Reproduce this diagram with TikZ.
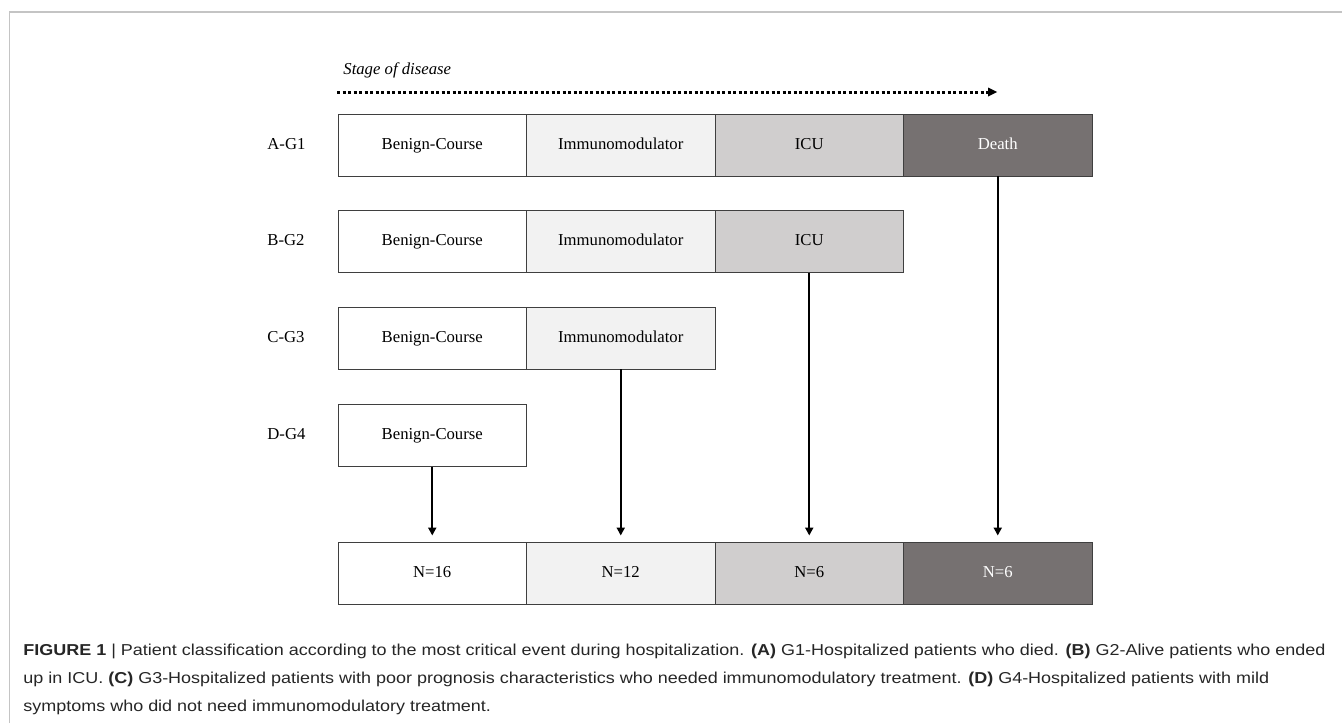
\documentclass[tikz,border=0pt]{standalone}
\usepackage{fontspec}
\setmainfont{Liberation Serif}
\newfontfamily\capfont{Liberation Sans}
\usetikzlibrary{arrows.meta}
\definecolor{immu}{HTML}{F2F2F2}
\definecolor{icu}{HTML}{D0CECE}
\definecolor{death}{HTML}{767171}
\definecolor{boxline}{HTML}{3F3F3F}
\definecolor{framecol}{HTML}{C4C4C4}
\definecolor{captext}{HTML}{262626}
\newlength\caplinew
\newcommand\capsize{\capfont\fontsize{7.9}{9}\selectfont}
\newcommand\capA{\textbf{FIGURE 1} | Patient classification according to the most critical event during hospitalization. \textbf{(A)} G1-Hospitalized patients who died. \textbf{(B)} G2-Alive patients who ended}
\newcommand\capB{up in ICU. \textbf{(C)} G3-Hospitalized patients with poor prognosis characteristics who needed immunomodulatory treatment. \textbf{(D)} G4-Hospitalized patients with mild}
\newcommand\capC{symptoms who did not need immunomodulatory treatment.}
\begin{document}
\settowidth\caplinew{\capsize\capA}
\pgfmathsetmacro\capsx{651pt/\caplinew}
\begin{tikzpicture}[x=0.5pt,y=-0.5pt,
  stagebox/.style={rectangle,draw=boxline,line width=0.5pt,minimum width=94.25pt,
    minimum height=31pt,inner sep=0pt,outer sep=0pt,text height=5.6pt,text depth=1.6pt,
    font=\fontsize{8.35}{10}\selectfont},
  benign/.style={stagebox,fill=white},
  immbox/.style={stagebox,fill=immu},
  icubox/.style={stagebox,fill=icu},
  deathbox/.style={stagebox,fill=death,text=white},
  grouplabel/.style={anchor=west,inner sep=0pt,text height=5.6pt,text depth=1.6pt,
    font=\fontsize{8.35}{10}\selectfont},
  flow/.style={line width=1pt,-{Triangle[length=4pt,width=4pt]},shorten >=3.5pt},
  captionline/.style={anchor=base west,inner sep=0pt,text=captext,font=\capsize}]
\useasboundingbox (0,0) rectangle (1342,723);
% frame
\draw[framecol,line width=0.75pt] (9.5,723) -- (9.5,12) -- (1342,12);
% stage of disease
\node[anchor=west,inner sep=0pt,font=\fontsize{8.35}{10}\selectfont\itshape] (stage) at (343,70) {Stage of disease};
\coordinate (sa) at (337,92);
\coordinate (sb) at (997,92);
\draw[line width=1.5pt,dash pattern=on 1.5pt off 1.25pt,-{Triangle[length=4.5pt,width=4.5pt,line width=0pt]}] (sa) -- (sb);
% row A
\node[grouplabel] (lA) at (267,145) {A-G1};
\node[benign]  (a1) at (432.25,145) {Benign-Course};
\node[immbox]  (a2) at (620.75,145) {Immunomodulator};
\node[icubox]  (a3) at (809.25,145) {ICU};
\node[deathbox](a4) at (997.75,145) {Death};
% row B
\node[grouplabel] (lB) at (267,241.5) {B-G2};
\node[benign]  (b1) at (432.25,241.5) {Benign-Course};
\node[immbox]  (b2) at (620.75,241.5) {Immunomodulator};
\node[icubox]  (b3) at (809.25,241.5) {ICU};
% row C
\node[grouplabel] (lC) at (267,338) {C-G3};
\node[benign]  (c1) at (432.25,338) {Benign-Course};
\node[immbox]  (c2) at (620.75,338) {Immunomodulator};
% row D
\node[grouplabel] (lD) at (267,435.5) {D-G4};
\node[benign]  (d1) at (432.25,435.5) {Benign-Course};
% totals
\node[benign]  (n1) at (432.25,573.5) {N=16};
\node[immbox]  (n2) at (620.75,573.5) {N=12};
\node[icubox]  (n3) at (809.25,573.5) {N=6};
\node[deathbox](n4) at (997.75,573.5) {N=6};
% arrows
\draw[flow] (d1.south) -- (n1.north);
\draw[flow] (c2.south) -- (n2.north);
\draw[flow] (b3.south) -- (n3.north);
\draw[flow] (a4.south) -- (n4.north);
% caption
\node[captionline] (cap1) at (23,655) {\scalebox{\capsx}[1]{\capA}};
\node[captionline] (cap2) at (23,683.5) {\scalebox{\capsx}[1]{\capB}};
\node[captionline] (cap3) at (23,711.5) {\scalebox{\capsx}[1]{\capC}};
\end{tikzpicture}
\end{document}
